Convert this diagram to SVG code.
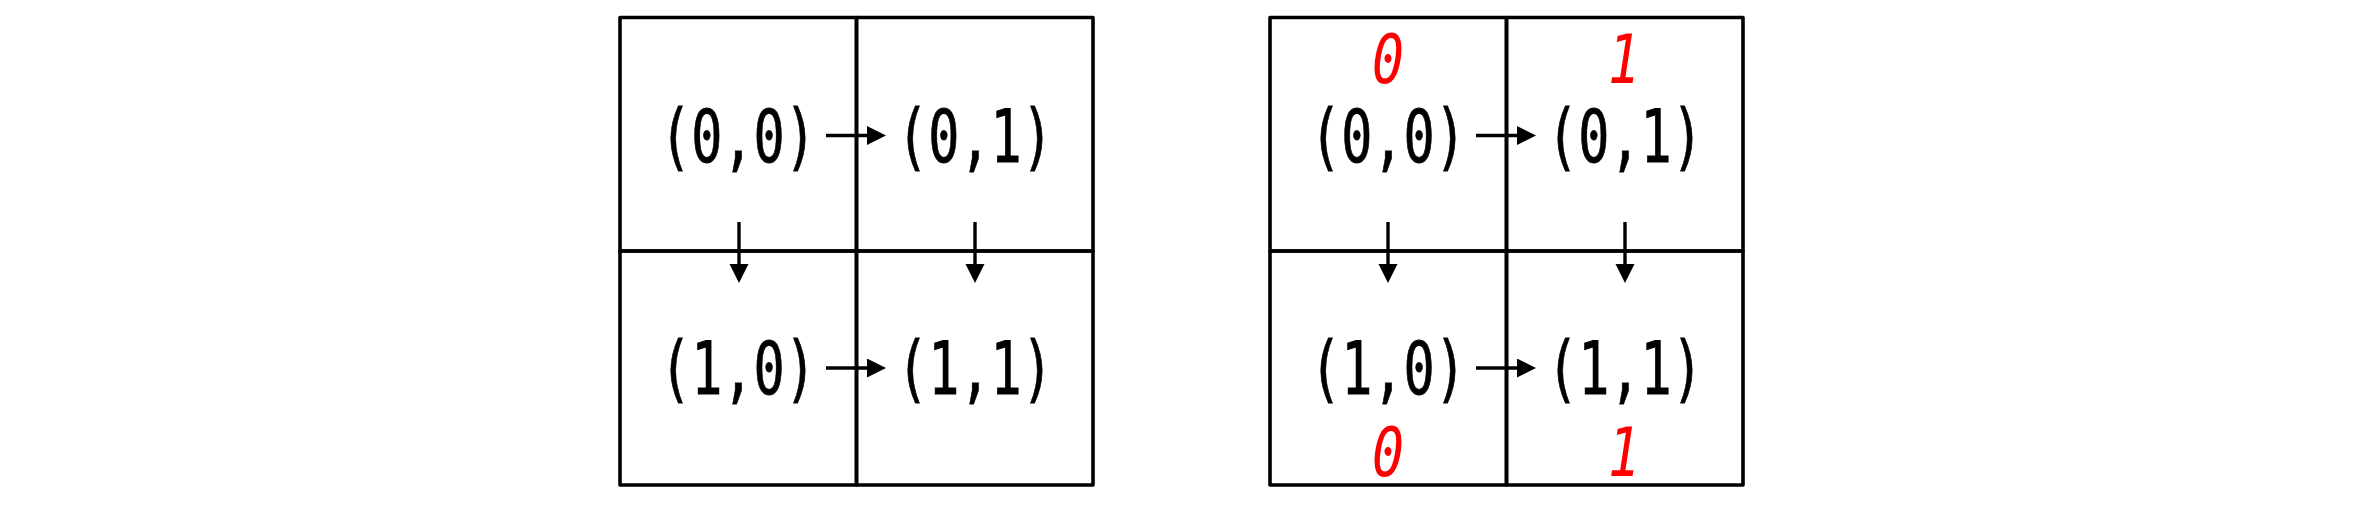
<svg xmlns="http://www.w3.org/2000/svg" width="2363" height="528" viewBox="0 0 2363 528">
  <style>
    .cell { fill: none; stroke: #000; stroke-width: 3.6; stroke-linejoin: round; stroke-linecap: round; }
    .lbl { font-family: "DejaVu Sans Mono", monospace; font-size: 73px; fill: #000; stroke: #000; stroke-width: 0.8; text-anchor: middle; }
    .red { font-family: "DejaVu Sans Mono", monospace; font-size: 68px; fill: #ff0000; font-style: italic; text-anchor: middle; }
    .arr { stroke: #000; stroke-width: 3.4; fill: none; marker-end: url(#ah); }
  </style>
  <defs>
    <marker id="ah" markerUnits="userSpaceOnUse" markerWidth="20" markerHeight="20" refX="8" refY="9.5" orient="auto">
      <path d="M0,0 L19,9.5 L0,19 Z" fill="#000"/>
    </marker>
  </defs>
  <rect width="2363" height="528" fill="#fff"/>

  <!-- Left grid -->
  <g id="L00"><rect class="cell" x="620" y="17.5" width="236.5" height="233.5"/><text class="lbl" x="738" y="162" textLength="156" lengthAdjust="spacingAndGlyphs">(0,0)</text></g>
  <g id="L01"><rect class="cell" x="856.5" y="17.5" width="236.5" height="233.5"/><text class="lbl" x="975" y="162" textLength="156" lengthAdjust="spacingAndGlyphs">(0,1)</text></g>
  <g id="L10"><rect class="cell" x="620" y="251" width="236.5" height="234"/><text class="lbl" x="738" y="394" textLength="156" lengthAdjust="spacingAndGlyphs">(1,0)</text></g>
  <g id="L11"><rect class="cell" x="856.5" y="251" width="236.5" height="234"/><text class="lbl" x="975" y="394" textLength="156" lengthAdjust="spacingAndGlyphs">(1,1)</text></g>

  <!-- Right grid -->
  <g id="R00"><rect class="cell" x="1270" y="17.5" width="236.5" height="233.5"/><text class="lbl" x="1388" y="162" textLength="156" lengthAdjust="spacingAndGlyphs">(0,0)</text><text class="red" x="1388" y="82.5" textLength="32" lengthAdjust="spacingAndGlyphs">0</text></g>
  <g id="R01"><rect class="cell" x="1506.5" y="17.5" width="236.5" height="233.5"/><text class="lbl" x="1625" y="162" textLength="156" lengthAdjust="spacingAndGlyphs">(0,1)</text><text class="red" x="1624" y="82.5" textLength="32" lengthAdjust="spacingAndGlyphs">1</text></g>
  <g id="R10"><rect class="cell" x="1270" y="251" width="236.5" height="234"/><text class="lbl" x="1388" y="394" textLength="156" lengthAdjust="spacingAndGlyphs">(1,0)</text><text class="red" x="1388" y="476" textLength="32" lengthAdjust="spacingAndGlyphs">0</text></g>
  <g id="R11"><rect class="cell" x="1506.5" y="251" width="236.5" height="234"/><text class="lbl" x="1625" y="394" textLength="156" lengthAdjust="spacingAndGlyphs">(1,1)</text><text class="red" x="1624" y="476" textLength="32" lengthAdjust="spacingAndGlyphs">1</text></g>

  <g id="connectors">
    <line class="arr" x1="826" y1="135.5" x2="875" y2="135.5"/>
    <line class="arr" x1="826" y1="368" x2="875" y2="368"/>
    <line class="arr" x1="739" y1="222" x2="739" y2="272"/>
    <line class="arr" x1="975" y1="222" x2="975" y2="272"/>
    <line class="arr" x1="1476" y1="135.5" x2="1525" y2="135.5"/>
    <line class="arr" x1="1476" y1="368" x2="1525" y2="368"/>
    <line class="arr" x1="1388" y1="222" x2="1388" y2="272"/>
    <line class="arr" x1="1625" y1="222" x2="1625" y2="272"/>
  </g>
</svg>
